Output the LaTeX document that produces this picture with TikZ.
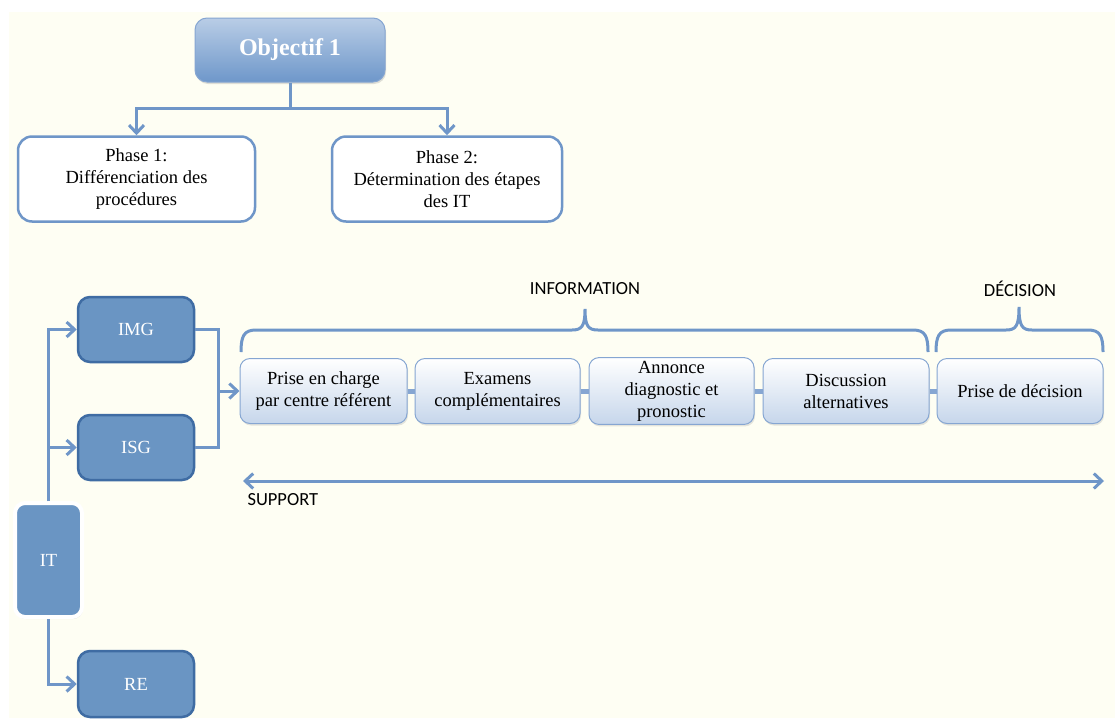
\documentclass[tikz,border=0pt]{standalone}
\usepackage{fontspec}
\setmainfont{Liberation Serif}
\newfontfamily\labelfont{Carlito}
\usetikzlibrary{arrows.meta,shadows}
\definecolor{cream}{HTML}{FEFEF3}
\definecolor{wire}{HTML}{6F96C8}
\definecolor{deep}{HTML}{6A95C3}
\definecolor{edge}{HTML}{3F6CA3}
\definecolor{pale}{HTML}{C6D6EB}
\definecolor{frame}{HTML}{86A6D2}
\definecolor{sky}{HTML}{B9CDE6}
\definecolor{dusk}{HTML}{6E97CA}

\begin{document}
\begin{tikzpicture}[x=1pt,y=-1pt,font=\fontsize{18.5}{22}\selectfont,
 conn/.style={draw=wire,line width=3pt},
 tip/.style={-{Straight Barb[length=8pt,width=15pt]}},
 phase/.style={draw=wire,line width=2.5pt,rounded corners=14pt,fill=white,align=center,minimum height=85pt},
 unit/.style={draw=edge,line width=2.5pt,rounded corners=12pt,fill=deep,text=white,minimum width=116pt,minimum height=65pt},
 stage/.style={draw=frame,line width=1pt,rounded corners=10pt,top color=white,bottom color=pale,align=center,minimum height=65pt,
  drop shadow={opacity=.2,shadow xshift=1pt,shadow yshift=-2pt}},
 link/.style={draw=frame,line width=5pt},
 tag/.style={font=\labelfont\fontsize{18.5}{21.5}\selectfont}]
\path[use as bounding box] (0,0) rectangle (1115,718);
\fill[cream] (9,12) rectangle (1115,718);
% objective and phases
\node[rounded corners=12pt,draw=frame,line width=1pt,top color=sky,bottom color=dusk,
  minimum width=190pt,minimum height=64pt,text=white,font=\fontsize{24}{28}\selectfont\bfseries,
  drop shadow={opacity=.25,shadow xshift=1pt,shadow yshift=-2pt}] (obj) at (290,50) {Objectif 1};
\node[phase,minimum width=237pt] (ph1) at (136.5,179) {Phase 1:\\Différenciation des\\procédures};
\node[phase,minimum width=230pt] (ph2) at (447,179) {Phase 2:\\Détermination des étapes\\des IT};
\coordinate (fork) at (290,108);
\draw[conn] (obj.south)--(fork);
\draw[conn,tip] (fork)-|(ph1.north);
\draw[conn,tip] (fork)-|(ph2.north);
% left column
\node[unit] (img) at (136,329.5) {IMG};
\node[unit] (isg) at (136,447.5) {ISG};
\node[unit,minimum height=66pt] (re) at (136,684) {RE};
\node[draw=white,line width=4pt,rounded corners=10pt,fill=deep,text=white,minimum width=67pt,minimum height=114pt,
  drop shadow={opacity=.2,shadow xshift=1pt,shadow yshift=-2pt}] (it) at (48.5,560) {IT};
\draw[conn,tip] (it.north)|-(img.west);
\draw[conn,tip] (it.north)|-(isg.west);
\draw[conn,tip] (it.south)|-(re.west);
% stages
\node[stage,minimum width=167pt] (p1) at (323.5,391) {Prise en charge\\par centre référent};
\node[stage,minimum width=165pt] (p2) at (497.5,391) {Examens\\complémentaires};
\node[stage,minimum width=165pt] (p3) at (671.5,391) {Annonce\\diagnostic et\\pronostic};
\node[stage,minimum width=166pt] (p4) at (846,391) {Discussion\\alternatives};
\node[stage,minimum width=166pt] (p5) at (1020,391) {Prise de décision};
\draw[link] (p1.east)--(p2.west);
\draw[link] (p2.east)--(p3.west);
\draw[link] (p3.east)--(p4.west);
\draw[link] (p4.east)--(p5.west);
\coordinate (join) at (218,391);
\draw[conn] (img.east)-|(join)|-(isg.east);
\draw[conn,tip] (join)--(p1.west);
% braces and support
\node[tag] (info) at (585,289) {INFORMATION};
\node[tag] (deci) at (1020,289) {DÉCISION};
\draw[conn] (241,352) .. controls (241,336) and (244,330) .. (256,330) -- (572,330)
  .. controls (582,330) and (585,326) .. (585,309) .. controls (585,326) and (588,330) .. (598,330)
  -- (913,330) .. controls (925,330) and (928,336) .. (928,352);
\draw[conn] (936,352) .. controls (936,336) and (939,330) .. (951,330) -- (1006,330)
  .. controls (1016,330) and (1019,326) .. (1019,307) .. controls (1019,326) and (1022,330) .. (1032,330)
  -- (1088,330) .. controls (1100,330) and (1103,336) .. (1103,352);
\coordinate (sl) at (243,481);
\coordinate (sr) at (1104,481);
\draw[conn,{Straight Barb[length=8pt,width=15pt]}-{Straight Barb[length=8pt,width=15pt]}] (sl)--(sr);
\node[tag,anchor=west] (sup) at (244,500) {SUPPORT};
\end{tikzpicture}
\end{document}
